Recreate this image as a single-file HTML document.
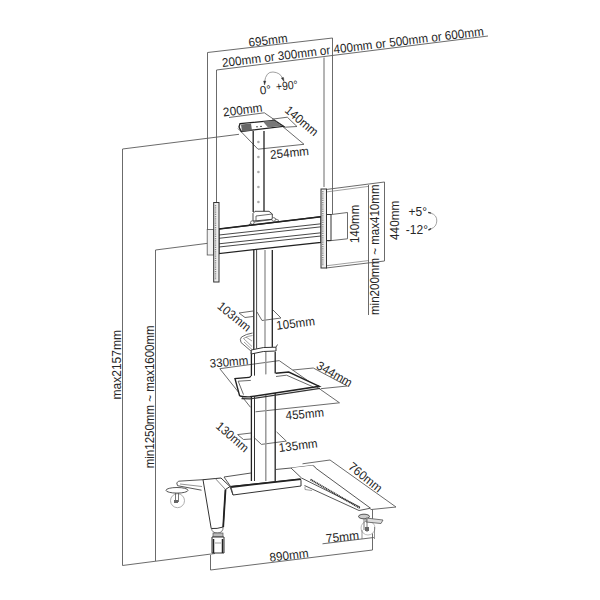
<!DOCTYPE html>
<html><head><meta charset="utf-8">
<style>
html,body{margin:0;padding:0;background:#fff;width:600px;height:600px;overflow:hidden}
svg{display:block}
text{font-family:"Liberation Sans",sans-serif;font-size:11.5px;fill:#262626}
.d{stroke:#5a5a5a;stroke-width:0.9;fill:none}
.o{stroke:#333;stroke-width:1;fill:none}
.k{stroke:#222;stroke-width:1.4;fill:none}
.g{stroke:#888;stroke-width:0.8;fill:none}
</style></head>
<body>
<svg width="600" height="600" viewBox="0 0 600 600">
<!-- ===== dimension lines ===== -->
<g class="d">
  <!-- 695 -->
  <path d="M207.5,230 V52.5 L332.5,38 V214"/>
  <!-- 200..600 -->
  <path d="M216.5,202 V70 L488,36"/>
  <path d="M324,187 V57.5"/>
  <!-- max2157 -->
  <path d="M239,134.3 L122.5,149 V565.5 L215,553.5"/>
  <!-- min1250 -->
  <path d="M210,243 L155.5,250 V561"/>
  <!-- 890 -->
  <path d="M210.5,555 V570 L372.5,550 V509.5"/>
  <!-- 75 -->
  <path d="M322.5,543.8 L373.8,537.5"/>
  <!-- right VESA box -->
  <path d="M326,189.5 L384.5,182 V261 L326,268"/>
  <path d="M326,192 L369,186.3 M326,265.8 L369,260.5" stroke="#777" stroke-width="0.7"/>
  <path d="M368.5,185 V315"/>
  <path d="M327.5,215 L347.5,212.5 V238.8 L327.5,241"/>
  <!-- 200 / 140 / 254 top plate -->
  <path d="M229,117.5 L264.3,112.8 L285,127"/>
  <path d="M272,119.2 L287.3,117.2 L297,126.5 L283.3,127.3"/>
  <path d="M238,128.5 L258,149.2 L304,144.3 L283.3,127"/>
  <!-- 103 / 105 -->
  <path d="M239,313 L253,311 M239,313 L245,317.5 L253,316.5 M257,312 L262,320.5 L281,318 L273,310"/>
  <!-- 330 / 344 / 455 -->
  <path d="M219.8,368.7 L279.3,360.6 M219.8,368.7 L250.5,407.3 M255.5,411.8 L339.5,402.8 L279.3,360.7"/>
  <path d="M292.7,370 L313.3,368 L347.3,386 L320.7,388.7"/>
  <!-- 130 / 135 -->
  <path d="M237.6,434.6 L251.1,433 M237.6,434.6 L243.5,439.5 L251.1,439 M253.8,437.3 L261.4,444.4 L286.3,441.1 L276.6,431.9"/>
  <!-- 760 -->
  <path d="M302.5,463.8 L330,460 L396,507 L370.5,509.6"/>
</g>

<!-- ===== cart structure ===== -->
<g class="o">
  <!-- upper column -->
  <path d="M253.2,131 V212" stroke="#222" stroke-width="1.3"/>
  <path d="M264,131 V212" stroke="#222" stroke-width="1.3"/>
  <g fill="#aaa" stroke="none">
    <circle cx="258.4" cy="142" r="1.3"/><circle cx="258.4" cy="157" r="1.3"/><circle cx="258.4" cy="172" r="1.3"/><circle cx="258.4" cy="187" r="1.3"/><circle cx="258.4" cy="202" r="1.3"/>
  </g>
  <!-- top plate -->
  <path d="M240,123.7 L274,120.3 L283.3,126.3 L241.3,131.5 L239,127 Z" fill="#fff" stroke="#222" stroke-width="1.3"/>
  <path d="M241,124.5 L251,123.5 L252,130.5 L242,131.5 Z" fill="#666" stroke="none"/>
  <path d="M263,121.5 L274,120.5 L282,126 L268,127.5 Z" fill="#777" stroke="none"/>
  <path d="M256,126.8 h2 M260,126.4 h2" stroke="#555"/>
  <!-- block under upper column -->
  <path d="M253,221 V213.5 L255,211.3 H269 L272.3,214 V219.3 L256,220.8 Z" fill="#fff" stroke="#333" stroke-width="0.9"/>
  <path d="M256,216 L272.3,214 M256,216 V221" stroke="#444" stroke-width="0.8"/>
  <path d="M249,225 Q251,221.5 254,222 L272,219.5 Q276,218 279,220.5" fill="none" stroke="#444" stroke-width="0.8"/>
  <circle cx="252.3" cy="222.6" r="1.8" fill="#fff" stroke="#444" stroke-width="0.7"/>
  <circle cx="273.7" cy="219.4" r="1.8" fill="#fff" stroke="#444" stroke-width="0.7"/>
  <!-- crossbar -->
  <path d="M219,229 L321,216.7 L321,242.4 L219,253.5 Z" fill="#fff" stroke="#222" stroke-width="1.2"/>
  <path d="M219,229 L321,216.7" stroke="#222" stroke-width="1.6"/>
  <path d="M219,235 L321,223.8 M219,238.3 L321,226.8 M219,243.8 L321,232.8 M219,247 L321,236" stroke="#333" stroke-width="0.9"/>
  <!-- left bracket -->
  <rect x="207.2" y="229.5" width="6.5" height="25.5" fill="#f2f2f2" stroke="#555" stroke-width="0.8"/>
  <rect x="213.7" y="202.5" width="5.3" height="79.5" fill="#eee" stroke="#333" stroke-width="1"/>
  <path d="M215.5,205 V280" stroke="#888" stroke-width="1.4" stroke-dasharray="1.2,1"/>
  <!-- right bracket -->
  <rect x="321" y="189" width="5.5" height="79" fill="#eee" stroke="#333" stroke-width="1"/>
  <path d="M322.8,191 V266" stroke="#888" stroke-width="1.4" stroke-dasharray="1.2,1"/>
  <rect x="326.5" y="214.5" width="4.5" height="26" fill="#fff" stroke="#333" stroke-width="1"/>
  <!-- column mid (crossbar to collar) -->
  <path d="M253.8,250 V350" stroke="#222" stroke-width="1.3"/>
  <path d="M256.6,250 V350" stroke="#333" stroke-width="0.9"/>
  <path d="M265,250 V350" stroke="#999" stroke-width="1.4"/>
  <path d="M272.3,250 V350" stroke="#222" stroke-width="1.3"/>
  <!-- column lower (collar to base) -->
  <path d="M251.4,352 V481" stroke="#222" stroke-width="1.3"/>
  <path d="M254.5,352 V481" stroke="#333" stroke-width="1"/>
  <path d="M265.8,352 V481" stroke="#999" stroke-width="1.5"/>
  <path d="M275.2,352 V481" stroke="#222" stroke-width="1.3"/>
  <!-- collar -->
  <path d="M251.2,350 Q263,346.5 276,347.2 L276,351 Q263,350.5 251.2,354 Z" fill="#fff" stroke="#333" stroke-width="1"/>
  <path d="M276,347.2 L277.5,344.5" stroke="#555"/>
  <!-- handle -->
  <path d="M252.5,333 Q246,334 241.5,337 Q239.5,339 241,342.5 L251.5,351.5" fill="none" stroke="#555" stroke-width="0.9"/>
  <path d="M252.5,335.5 Q247,336 243.5,338.5 L252,346.5 M244,342 L252,349.5 M246,337 L252,341" fill="none" stroke="#777" stroke-width="0.7"/>
  <!-- shelf -->
  <path d="M250.8,376 Q250,377.5 249,377.4 L235,378.6 L239.5,395.5 Q241,397 250,396.8 L319.3,386.3 L288.7,372 L275.6,373.2" fill="#fff" stroke="#222" stroke-width="1.4"/>
  <path d="M250.8,380.4 L238.2,381.2 L243.5,394.6 M276,376.5 L286.5,375.2 L313,386.8" fill="none" stroke="#444" stroke-width="0.8"/>
  <path d="M241.5,398.6 L250,398.9 L320,388.3" fill="none" stroke="#333" stroke-width="1.2"/>
  <!-- base back surface -->
  <path d="M176.7,481.2 Q175,483 177.5,485.7 L201.5,490.2 L230,486.5 L301,479 L370.5,508 L359,510 L301,486 L233,495 Z" fill="#fff" stroke="none"/>
  <path d="M224,477 L251,473 M275.5,469.5 L291,468 L312.7,465.5" stroke="#444" stroke-width="0.9"/>
  <!-- base crossbar front -->
  <path d="M230,486.5 L301,479 L301,486 L233,495 Z" fill="#fff" stroke="#333" stroke-width="1"/>
  <path d="M231,487 L301,479.2" stroke="#222" stroke-width="1.8"/>
  <path d="M224,477 L231,487 L233,495" stroke="#444" stroke-width="0.9"/>
  <!-- right arm -->
  <path d="M291,468 L312.7,465.5 L370.5,508.2 L359,510.5 L304.5,485.5 L301,479 Z" fill="#fff" stroke="none"/>
  <path d="M291,468 L301.5,478 L360,507 M312.7,465.5 Q315,466 315.5,468 L370.5,508.2 L359,510.5 L304.5,485.5" stroke="#444" stroke-width="0.9"/>
  <path d="M310.5,479.5 L360,508.2" stroke="#333" stroke-width="1.8" stroke-dasharray="1.2,0.6"/>
  <path d="M305,486.5 V489.5 L312,490.5" stroke="#777" stroke-width="0.7"/>
  <!-- left rear arm -->
  <path d="M203,479.7 L178.5,481.2 Q175.5,482.5 177.5,485.7 L201.5,490.2" fill="#fff" stroke="#444" stroke-width="0.9"/>
  <path d="M180,484 L202,486.5" stroke="#666" stroke-width="0.7"/>
  <!-- left leg -->
  <path d="M203,479.7 L221,478 L230,486.5 L225.5,489.5 L223.2,527 Q217,529 211.2,528.5 Z" fill="#fff" stroke="#333" stroke-width="1"/>
  <path d="M225.5,489.5 L223.2,527" stroke="#222" stroke-width="1.8"/>
  <path d="M215,478.2 L225.5,489.5" stroke="#666" stroke-width="0.8"/>
  <path d="M211.5,528.5 Q212,533 217.5,533 Q223,533 223.2,527" fill="none" stroke="#555" stroke-width="0.8"/>
  <!-- front-left caster -->
  <rect x="213" y="533" width="10" height="4" fill="#bbb" stroke="#555" stroke-width="0.7"/>
  <path d="M212,537 H224 V553 H212 Z" fill="#fff" stroke="#333" stroke-width="1"/>
  <path d="M213.5,539 V553 M222.5,539 V553" stroke="#222" stroke-width="1.5"/>
  <path d="M215,543 H221" stroke="#777" stroke-width="0.7"/>
  <!-- rear-left caster -->
  <circle cx="177.5" cy="500.7" r="7" fill="#fff" stroke="#999" stroke-width="0.8"/>
  <ellipse cx="177" cy="490.3" rx="11" ry="2.8" fill="#fff" stroke="#444" stroke-width="0.9"/>
  <path d="M175.5,493 V502 M178.5,493 V502" stroke="#555" stroke-width="0.8"/>
  <rect x="174" y="500" width="4" height="3" fill="#666" stroke="none"/>
  <!-- rear-right caster -->
  <circle cx="368" cy="528" r="7" fill="#fff" stroke="#aaa" stroke-width="0.8"/>
  <ellipse cx="364" cy="516.5" rx="5.5" ry="2.3" fill="#ccc" stroke="#444" stroke-width="0.9"/>
  <path d="M366,518 L383,520 L381,523.5 L366,522 Z" fill="#ddd" stroke="#555" stroke-width="0.8"/>
  <path d="M364,519 V530 M367,519 V532" stroke="#555" stroke-width="0.8"/>
  <rect x="365" y="527" width="4" height="4" fill="#666" stroke="none"/>
  <path d="M362,530 V539 M374.5,527 V539" stroke="#666" stroke-width="0.7"/>
</g>

<!-- ===== texts ===== -->
<text transform="translate(249.1,46.8) rotate(-6.7)" style="font-size:12.3px" textLength="39.3" lengthAdjust="spacingAndGlyphs">695mm</text>
<text transform="translate(222.6,67.0) rotate(-6.9)" style="font-size:12.3px" textLength="263.5" lengthAdjust="spacingAndGlyphs">200mm or 300mm or 400mm or 500mm or 600mm</text>
<text transform="translate(260.3,94.5) rotate(-6)" style="font-size:11.8px">0°</text>
<text transform="translate(276.3,90.8) rotate(-6)" style="font-size:11.8px" textLength="22" lengthAdjust="spacingAndGlyphs">+90°</text>
<path d="M264.5,82 Q266,71.5 273,72 Q280,72.5 282.5,78" fill="none" stroke="#888" stroke-width="0.8"/>
<path d="M263.6,81 L265.8,81 L264.6,85 Z M281.3,78 L283.5,77.5 L284,81.5 Z" fill="#333" stroke="#333" stroke-width="0.4"/>
<text transform="translate(223.6,116.6) rotate(-7.5)" style="font-size:12.3px" textLength="39.5" lengthAdjust="spacingAndGlyphs">200mm</text>
<text transform="translate(284,111.6) rotate(40)" style="font-size:12.3px" textLength="39" lengthAdjust="spacingAndGlyphs">140mm</text>
<text transform="translate(270.5,159) rotate(-6)" style="font-size:12.3px" textLength="39" lengthAdjust="spacingAndGlyphs">254mm</text>
<text transform="translate(359.2,243.0) rotate(-90)" style="font-size:12.3px" textLength="38.2" lengthAdjust="spacingAndGlyphs">140mm</text>
<text transform="translate(379.2,315.0) rotate(-90)" style="font-size:12.3px" textLength="130.5" lengthAdjust="spacingAndGlyphs">min200mm ~ max410mm</text>
<text transform="translate(398.7,240.0) rotate(-90)" style="font-size:12.3px" textLength="39.5" lengthAdjust="spacingAndGlyphs">440mm</text>
<text x="408.5" y="215.8" style="font-size:12px">+5°</text>
<text x="405.8" y="233.8" style="font-size:12px">-12°</text>
<path d="M431,213.2 Q437,215 436.8,221 Q436.5,227 431,228.8" fill="none" stroke="#999" stroke-width="0.9"/>
<path d="M428.2,212.3 L431,213.2 M428.4,230.2 L431,228.6" fill="none" stroke="#333" stroke-width="1.4"/>
<text transform="translate(120.5,399.5) rotate(-90)" style="font-size:12.3px" textLength="69.5" lengthAdjust="spacingAndGlyphs">max2157mm</text>
<text transform="translate(153.5,468.3) rotate(-90)" style="font-size:12.3px" textLength="143" lengthAdjust="spacingAndGlyphs">min1250mm ~ max1600mm</text>
<text transform="translate(216.5,307.6) rotate(39)" style="font-size:12.3px" textLength="39" lengthAdjust="spacingAndGlyphs">103mm</text>
<text transform="translate(276.8,329.8) rotate(-7)" style="font-size:12.3px" textLength="38.8" lengthAdjust="spacingAndGlyphs">105mm</text>
<text transform="translate(210.1,367.8) rotate(-5)" style="font-size:12.3px" textLength="38.6" lengthAdjust="spacingAndGlyphs">330mm</text>
<text transform="translate(315.5,368) rotate(30)" style="font-size:12.3px" textLength="39" lengthAdjust="spacingAndGlyphs">344mm</text>
<text transform="translate(286.1,419.8) rotate(-5)" style="font-size:12.3px" textLength="38.3" lengthAdjust="spacingAndGlyphs">455mm</text>
<text transform="translate(215,427.3) rotate(41)" style="font-size:12.3px" textLength="39" lengthAdjust="spacingAndGlyphs">130mm</text>
<text transform="translate(279.3,452) rotate(-7)" style="font-size:12.3px" textLength="39" lengthAdjust="spacingAndGlyphs">135mm</text>
<text transform="translate(347.5,468.1) rotate(39)" style="font-size:12.3px" textLength="39.5" lengthAdjust="spacingAndGlyphs">760mm</text>
<text transform="translate(326.3,542.8) rotate(-6)" style="font-size:12.3px" textLength="33.2" lengthAdjust="spacingAndGlyphs">75mm</text>
<text transform="translate(270.1,561.8) rotate(-7)" style="font-size:12.3px" textLength="39.3" lengthAdjust="spacingAndGlyphs">890mm</text>
</svg>
</body></html>
